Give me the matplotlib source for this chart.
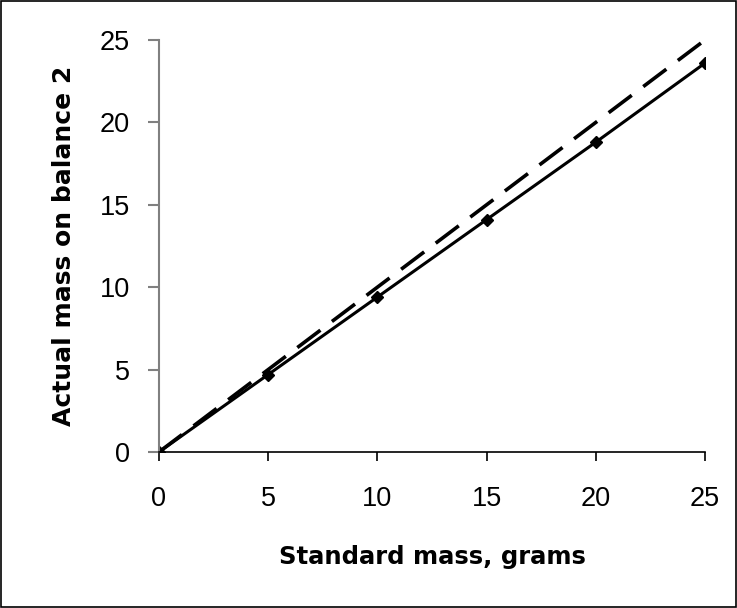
import matplotlib

matplotlib.use("Agg")
import matplotlib.pyplot as plt
from matplotlib.patches import Rectangle

standard_mass = [0, 5, 10, 15, 20, 25]
actual_mass = [0, 4.7, 9.4, 14.1, 18.8, 23.6]
ideal_x = [0, 25]
ideal_y = [0, 25]
ticks = [0, 5, 10, 15, 20, 25]

fig = plt.figure(figsize=(7.37, 6.08), dpi=100)
ax = fig.add_axes([0.2157, 0.2566, 0.7409, 0.6776])

ax.plot(ideal_x, ideal_y, color="black", linewidth=2.6, linestyle=(0, (8, 4)))
ax.plot(standard_mass, actual_mass, color="black", linewidth=2.2,
        marker="D", markersize=6.5)

ax.set_xlim(0, 25)
ax.set_ylim(0, 25)
ax.set_xticks(ticks)
ax.set_yticks(ticks)
ax.spines["top"].set_visible(False)
ax.spines["right"].set_visible(False)
ax.spines["left"].set_color("#808080")
ax.spines["left"].set_linewidth(1.5)
ax.spines["bottom"].set_linewidth(1.2)

tick_font = {"family": "Liberation Sans", "size": 19.5}
ax.set_xticklabels([str(t) for t in ticks], fontdict=tick_font)
ax.set_yticklabels([str(t) for t in ticks], fontdict=tick_font)
ax.tick_params(axis="y", direction="out", length=8, color="#808080", width=1.5, pad=13)
ax.tick_params(axis="x", direction="out", length=6.5, width=1.2, pad=18)

ax.set_xlabel("Standard mass, grams", fontsize=17.5, fontweight="bold", labelpad=24)
ax.set_ylabel("Actual mass on balance 2", fontsize=18, fontweight="bold", labelpad=17)

fig.patches.append(Rectangle((0.002, 0.002), 0.996, 0.996, transform=fig.transFigure,
                             fill=False, edgecolor="black", linewidth=1.2))

fig.savefig("out.png", dpi=100, facecolor="white")
